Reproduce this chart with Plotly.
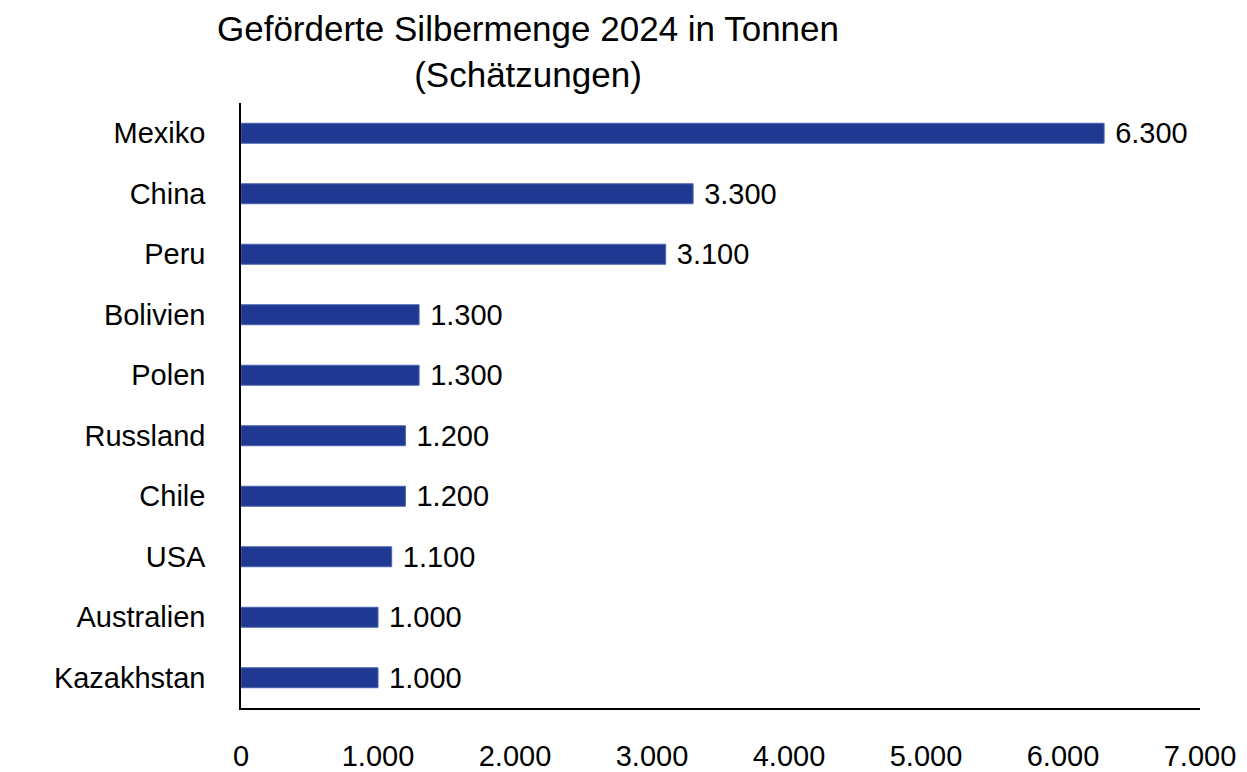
import plotly.graph_objects as go

countries = ["Mexiko", "China", "Peru", "Bolivien", "Polen", "Russland",
             "Chile", "USA", "Australien", "Kazakhstan"]
tonnes = [6300, 3300, 3100, 1300, 1300, 1200, 1200, 1100, 1000, 1000]
x_ticks = [0, 1000, 2000, 3000, 4000, 5000, 6000, 7000]
x_tick_labels = ["0", "1.000", "2.000", "3.000", "4.000", "5.000", "6.000", "7.000"]

FONT = "Liberation Sans, Arial, sans-serif"

# page body adds an 8px offset; figure is sized to fit the window
W, H = 1239, 764

fig = go.Figure(go.Bar(
    x=tonnes,
    y=countries,
    orientation="h",
    marker=dict(color="#1F3891", line=dict(color="#4A63B0", width=1)),
    text=["\u00a0" + f"{v:,}".replace(",", ".") for v in tonnes],
    textposition="outside",
    constraintext="none",
    textfont=dict(family=FONT, size=29, color="black"),
    cliponaxis=False,
))

fig.update_layout(
    width=W, height=H,
    paper_bgcolor="white", plot_bgcolor="white",
    margin=dict(l=233, r=47, t=95, b=64, autoexpand=False),
    bargap=0.67,
    showlegend=False,
    font=dict(family=FONT, color="black"),
    title=dict(
        text="Geförderte Silbermenge 2024 in Tonnen<br>(Schätzungen)",
        font=dict(family=FONT, size=35, color="black"),
        x=520 / W, xref="container", xanchor="center",
        y=1 - 33 / H, yref="container", yanchor="middle",
        automargin=False,
    ),
)

fig.update_xaxes(
    range=[0, 7000],
    tickvals=x_ticks, ticktext=x_tick_labels,
    tickfont=dict(family=FONT, size=29, color="black"),
    showgrid=False, zeroline=False,
    showline=True, linecolor="black", linewidth=2,
    ticks="outside", ticklen=21, tickcolor="rgba(0,0,0,0)",
    automargin=False,
)

fig.update_yaxes(
    autorange="reversed",
    tickfont=dict(family=FONT, size=29, color="black"),
    showgrid=False, zeroline=False,
    showline=True, linecolor="black", linewidth=1.5,
    ticks="outside", ticklen=28, tickcolor="rgba(0,0,0,0)",
    automargin=False,
)

fig.write_html("out.html")
